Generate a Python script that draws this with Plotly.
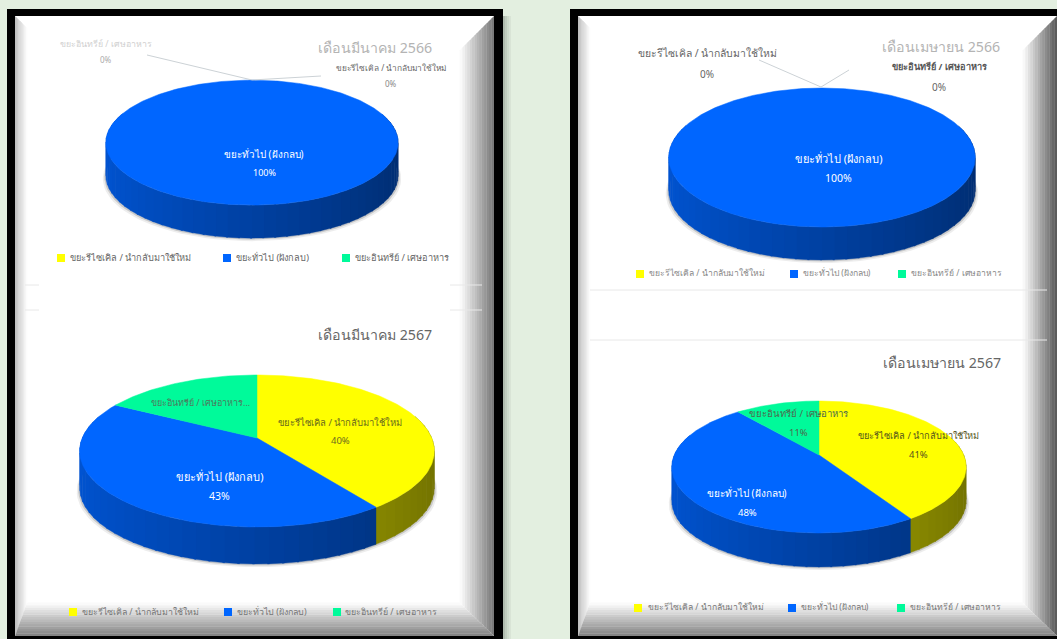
import numpy as np
import plotly.graph_objects as go

# ข้อมูลขยะแต่ละเดือน (%) ตามลำดับ categories
categories = ["ขยะรีไซเคิล / นำกลับมาใช้ใหม่", "ขยะทั่วไป (ฝังกลบ)", "ขยะอินทรีย์ / เศษอาหาร"]
mar_2566 = [0, 100, 0]
apr_2566 = [0, 100, 0]
mar_2567 = [40, 43, 17]
apr_2567 = [41, 48, 11]
titles = ["เดือนมีนาคม 2566", "เดือนเมษายน 2566", "เดือนมีนาคม 2567", "เดือนเมษายน 2567"]

COLORS = [(255, 255, 0), (0, 102, 255), (0, 250, 154)]
BG = "#e3efe0"
FONT = "Noto Sans, DejaVu Sans, sans-serif"


def rgb(c, f=1.0):
    return "rgb({},{},{})".format(*[int(v * f) for v in c])


def project(t, g):
    # วงกลมแบบ perspective: ด้านหลังเล็กกว่าด้านหน้า
    x, z = np.sin(t), np.cos(t)
    w = 1 + g["p"] * z
    return g["cx"] + g["r"] * x / w, g["cy"] - g["a"] * z / w


def add_pie(fig, values, g):
    total = sum(values)
    edges = np.cumsum([0] + values) / total * 2 * np.pi

    # เงาใต้ชิ้น
    t = np.linspace(0, 2 * np.pi, 121)
    x, y = project(t, g)
    for grow, alpha in [(3, 0.07), (1.5, 0.15)]:
        fig.add_trace(go.Scatter(
            x=g["cx"] + (x - g["cx"]) * (1 + grow / g["r"]), y=y + g["depth"] + grow,
            mode="lines", fill="toself", fillcolor=f"rgba(0,0,0,{alpha})",
            line=dict(width=0), hoverinfo="skip", showlegend=False,
        ))

    # ด้านข้าง
    for i, v in enumerate(values):
        if v == 0:
            continue
        n = max(int((edges[i + 1] - edges[i]) / np.radians(4)), 1)
        ts = np.linspace(edges[i], edges[i + 1], n + 1)
        for t0, t1 in zip(ts[:-1], ts[1:]):
            if np.cos((t0 + t1) / 2) > 0.3:
                continue
            arc = np.linspace(t0, t1 + 0.01, 4)
            x, y = project(arc, g)
            shade = 0.635 - 0.185 * np.sin((t0 + t1) / 2)
            fig.add_trace(go.Scatter(
                x=np.append(x, x[::-1]), y=np.append(y, y[::-1] + g["depth"]),
                mode="lines", fill="toself", fillcolor=rgb(COLORS[i], shade),
                line=dict(width=0.4, color=rgb(COLORS[i], shade)),
                hoverinfo="skip", showlegend=False,
            ))

    # หน้าบน
    for i, v in enumerate(values):
        if v == 0:
            continue
        arc = np.linspace(edges[i], edges[i + 1], max(int(v * 3.6), 2) + 1)
        x, y = project(arc, g)
        if v < total:
            x = np.concatenate([[g["cx"]], x, [g["cx"]]])
            y = np.concatenate([[g["cy"]], y, [g["cy"]]])
        fig.add_trace(go.Scatter(
            x=x, y=y, mode="lines", fill="toself", fillcolor=rgb(COLORS[i]),
            line=dict(width=0.5, color=rgb(COLORS[i])),
            name=categories[i], hoverinfo="skip", showlegend=False,
        ))


def bevel(shapes, x0, y0, x1, y1, left_w, right_w, bottom_w, right_dark):
    # กรอบนูน ไล่สีเป็นแถบ
    sides = [
        (left_w, 0.74, lambda a, b: [(x0 + a, y0 + a), (x0 + b, y0 + b), (x0 + b, y1 - b * bottom_w / left_w),
                                     (x0 + a, y1 - a * bottom_w / left_w)]),
        (right_w, right_dark, lambda a, b: [(x1 - a, y0 + a), (x1 - b, y0 + b), (x1 - b, y1 - b * bottom_w / right_w),
                                            (x1 - a, y1 - a * bottom_w / right_w)]),
        (bottom_w, 0.50, lambda a, b: [(x0 + a * left_w / bottom_w, y1 - a), (x0 + b * left_w / bottom_w, y1 - b),
                                       (x1 - b * right_w / bottom_w, y1 - b), (x1 - a * right_w / bottom_w, y1 - a)]),
    ]
    steps = 14
    for w, dark, poly in sides:
        for k in range(steps):
            a, b = w * k / steps, w * (k + 1) / steps + 0.4
            level = dark + (1 - dark) * (k + 0.5) / steps
            v = int(255 * level)
            pts = poly(a, b)
            path = "M" + " L".join(f"{px:.1f},{py:.1f}" for px, py in pts) + " Z"
            shapes.append(dict(type="path", path=path, fillcolor=f"rgb({v},{v},{v})",
                               line=dict(width=0), layer="below"))


def panel_line(shapes, x0, x1, y):
    shapes.append(dict(type="line", x0=x0, x1=x1, y0=y, y1=y, line=dict(color="#e8e8e8", width=1), layer="below"))


def note(fig, x, y, text, size=9, color="#666666", anchor="center"):
    fig.add_annotation(x=x, y=y, text=text, showarrow=False, xanchor=anchor, yanchor="middle",
                       font=dict(size=size, color=color, family=FONT))


def legend_row(fig, y, marks, starts, size, color="#777777"):
    fig.add_trace(go.Scatter(
        x=marks, y=[y] * 3, mode="markers",
        marker=dict(symbol="square", size=8, color=[rgb(c) for c in COLORS]),
        hoverinfo="skip", showlegend=False,
    ))
    for sx, name in zip(starts, categories):
        note(fig, sx - 2, y - 1, name, size=size, color=color, anchor="left")


def leader(fig, xs, ys):
    fig.add_trace(go.Scatter(x=xs, y=ys, mode="lines", line=dict(color="#ccd2d6", width=1),
                             hoverinfo="skip", showlegend=False))


fig = go.Figure()
shapes = []

# เงากรอบซ้าย
for sx, alpha in [(503, 0.30), (505, 0.20), (507, 0.12), (509, 0.06)]:
    shapes.append(dict(type="rect", x0=sx, x1=sx + 2, y0=16, y1=639,
                       fillcolor=f"rgba(60,70,60,{alpha})", line=dict(width=0), layer="below"))

# กรอบซ้ายและขวา (กรอบขวาล้นขอบภาพ)
for ox0, ox1, ix0, ix1, rw, rd in [(7, 503, 15, 494, 34, 0.46), (570, 1060, 578, 1057, 34, 0.34)]:
    shapes.append(dict(type="rect", x0=ox0, x1=ox1, y0=9, y1=639, fillcolor="#000000",
                       line=dict(width=0), layer="below"))
    shapes.append(dict(type="rect", x0=ix0, x1=ix1, y0=16, y1=636, fillcolor="#ffffff",
                       line=dict(width=0), layer="below"))
    bevel(shapes, ix0, 16, ix1, 636, 12, rw, 33, rd)

panel_line(shapes, 25, 39, 285)
panel_line(shapes, 450, 482, 285)
panel_line(shapes, 25, 39, 310)
panel_line(shapes, 450, 482, 310)
panel_line(shapes, 590, 1047, 290)
panel_line(shapes, 590, 1047, 340)

add_pie(fig, mar_2566, dict(cx=252, cy=132, r=144, a=60.7, p=0.17, depth=33))
add_pie(fig, apr_2566, dict(cx=822, cy=145.7, r=151, a=67.5, p=0.17, depth=33))
add_pie(fig, mar_2567, dict(cx=257, cy=438, r=174.7, a=73.8, p=0.171, depth=37))
add_pie(fig, apr_2567, dict(cx=819, cy=455, r=144.7, a=63.8, p=0.182, depth=34))

# เส้นโยง label ค่า 0%
leader(fig, [147, 252, 321], [55, 80, 76])
leader(fig, [759, 821, 849], [60, 87, 70])

# ชื่อเดือน
note(fig, 375, 47, titles[0], size=14.2, color="#b4b4b4")
note(fig, 941, 46, titles[1], size=14.2, color="#b4b4b4")
note(fig, 375, 334, titles[2], size=14.2, color="#666666")
note(fig, 942, 362, titles[3], size=14.2, color="#666666")

# label มีนาคม 2566
note(fig, 106, 44, categories[2], size=8.8, color="#d0d0d0")
note(fig, 106, 59, f"{mar_2566[2]}%", size=8, color="#aaaaaa")
note(fig, 391, 67, categories[0], size=8.3, color="#666666")
note(fig, 391, 83, f"{mar_2566[0]}%", size=8, color="#888888")
note(fig, 264, 154, categories[1], size=9.9, color="#ffffff")
note(fig, 264, 172, f"{mar_2566[1]}%", size=9, color="#ffffff")

# label เมษายน 2566
note(fig, 707, 53, categories[0], size=10.4, color="#666666")
note(fig, 707, 74, f"{apr_2566[0]}%", size=10, color="#666666")
note(fig, 939, 66, f"<b>{categories[2]}</b>", size=9.2, color="#555555")
note(fig, 939, 87, f"{apr_2566[2]}%", size=10, color="#666666")
note(fig, 838, 158, categories[1], size=11, color="#ffffff")
note(fig, 838, 178, f"{apr_2566[1]}%", size=10.5, color="#ffffff")

# label มีนาคม 2567
note(fig, 200, 402, categories[2] + "...", color="#4d7a5f")
note(fig, 340, 422, categories[0], size=9.5, color="#6b6b1e")
note(fig, 340, 440, f"{mar_2567[0]}%", size=9.5, color="#6b6b1e")
note(fig, 219, 476, categories[1], size=11, color="#ffffff")
note(fig, 219, 496, f"{mar_2567[1]}%", size=10.5, color="#ffffff")

# label เมษายน 2567
note(fig, 798, 413, categories[2], size=9.6, color="#4d6a4f")
note(fig, 798, 432, f"{apr_2567[2]}%", size=9.5, color="#4d6a4f")
note(fig, 918, 435, categories[0], size=9.2, color="#55551e")
note(fig, 918, 454, f"{apr_2567[0]}%", size=9.5, color="#55551e")
note(fig, 747, 493, categories[1], size=10, color="#ffffff")
note(fig, 747, 512, f"{apr_2567[1]}%", size=9.5, color="#ffffff")

legend_row(fig, 258, [61, 227, 346], [70, 236, 355], 9.2, color="#666666")
legend_row(fig, 274, [640, 794, 902], [649, 803, 911], 8.6, color="#888888")
legend_row(fig, 612, [73, 228, 337], [82, 237, 345], 8.9, color="#777777")
legend_row(fig, 608, [638, 792, 901], [648, 801, 910], 8.6, color="#777777")

fig.update_layout(
    width=1057, height=639, margin=dict(l=0, r=0, t=0, b=0),
    paper_bgcolor=BG, plot_bgcolor=BG, shapes=shapes, showlegend=False,
    xaxis=dict(range=[0, 1057], visible=False, fixedrange=True),
    yaxis=dict(range=[639, 0], visible=False, fixedrange=True),
)
fig.write_html("out.html", config={"displayModeBar": False},
               post_script="document.body.style.margin='0';document.body.style.background='#e3efe0';")
